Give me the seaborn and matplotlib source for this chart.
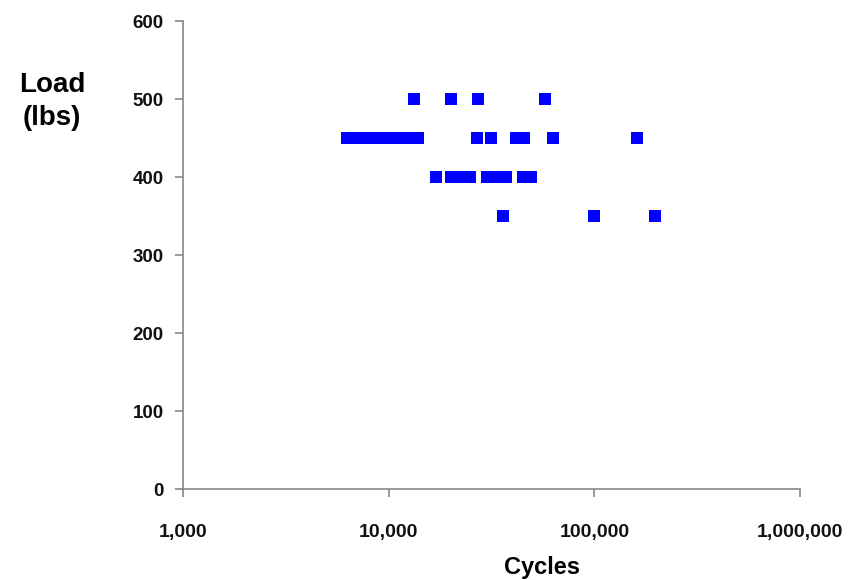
import matplotlib
matplotlib.use("Agg")
import matplotlib.pyplot as plt
import matplotlib.ticker as mticker
import seaborn as sns
import pandas as pd

# Data
cycles_500 = [13300, 20000, 27300, 57600]
cycles_450 = [6250, 6900, 7600, 8400, 9300, 10300, 11400, 12600, 13900,
              26800, 31500, 41600, 45500, 63300, 161000]
cycles_400 = [16900, 20100, 22300, 24900, 30100, 33500, 37200, 45000, 49200]
cycles_350 = [36000, 99500, 197000]
loads = [500, 450, 400, 350]

x_ticks = [1000, 10000, 100000, 1000000]
y_ticks = [0, 100, 200, 300, 400, 500, 600]

rows = []
for load, cyc in zip(loads, [cycles_500, cycles_450, cycles_400, cycles_350]):
    for c in cyc:
        rows.append({"Cycles": c, "Load": load})
df = pd.DataFrame(rows)

sns.set_style("white")
plt.rcParams['font.family'] = ['Liberation Sans', 'DejaVu Sans']
plt.rcParams['font.weight'] = 'bold'
plt.rcParams['text.color'] = 'black'
plt.rcParams['axes.labelcolor'] = 'black'

fig = plt.figure(figsize=(8.49, 5.80), dpi=100)
ax = fig.add_axes([183/849, 1 - 489/580, 617/849, 468/580])

sns.scatterplot(data=df, x="Cycles", y="Load", marker="s", s=80,
                color="#0000FF", linewidth=0, ax=ax, zorder=3, clip_on=False)

ax.set_xscale("log")
ax.set_xlim(1000, 1000000)
ax.set_ylim(0, 600)
ax.set_xticks(x_ticks)
ax.set_yticks(y_ticks)
ax.xaxis.set_minor_locator(mticker.NullLocator())
ax.xaxis.set_major_formatter(mticker.FuncFormatter(lambda v, p: f"{int(round(v)):,}"))

for s in ["top", "right"]:
    ax.spines[s].set_visible(False)
for s in ["left", "bottom"]:
    ax.spines[s].set_color("#868686")
    ax.spines[s].set_linewidth(1.2)

ax.tick_params(axis="both", which="major", direction="out", length=6,
               width=1.2, color="#868686", labelcolor="#111111",
               bottom=True, left=True)
ax.tick_params(axis="y", labelsize=13.5, pad=8)
ax.tick_params(axis="x", labelsize=14, pad=19)
for lab in ax.get_xticklabels() + ax.get_yticklabels():
    lab.set_fontweight("bold")

ax.set_xlabel("Cycles", fontsize=17, fontweight="bold", va="baseline", color="black")
ax.xaxis.set_label_coords(0.582, -0.181)
ax.set_ylabel("Load\n(lbs)", fontsize=20, fontweight="bold", rotation=0,
              ha="center", va="center", linespacing=1.35, color="black")
ax.yaxis.set_label_coords(-0.212, 0.829)

fig.savefig("out.png", dpi=100)
